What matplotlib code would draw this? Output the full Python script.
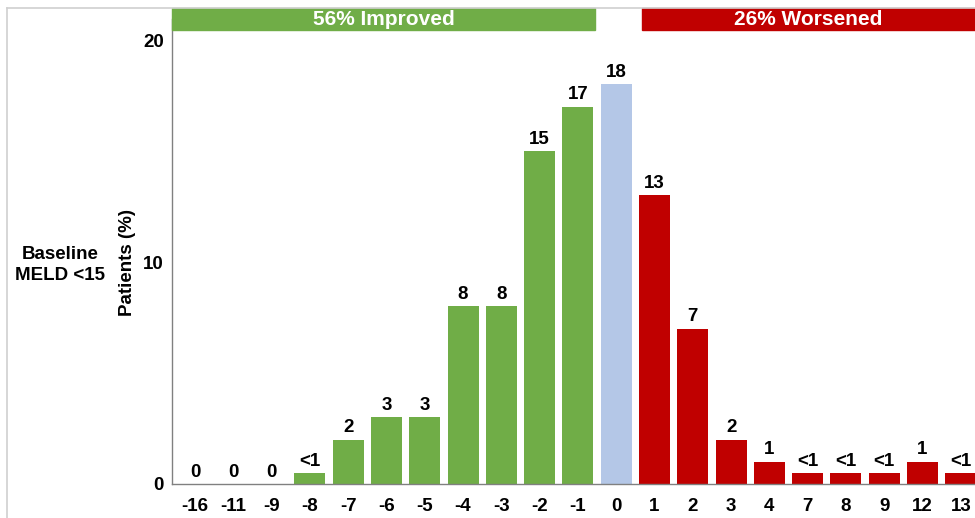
import matplotlib
matplotlib.use("Agg")
import matplotlib.pyplot as plt
from matplotlib.patches import Rectangle
from matplotlib.lines import Line2D

plt.rcParams['font.family'] = ['Liberation Sans', 'DejaVu Sans']

categories = ["-16", "-11", "-9", "-8", "-7", "-6", "-5", "-4", "-3", "-2", "-1",
              "0", "1", "2", "3", "4", "7", "8", "9", "12", "13"]
values = [0, 0, 0, 0.5, 2, 3, 3, 8, 8, 15, 17, 18, 13, 7, 2, 1, 0.5, 0.5, 0.5, 1, 0.5]
value_labels = ["0", "0", "0", "<1", "2", "3", "3", "8", "8", "15", "17", "18",
                "13", "7", "2", "1", "<1", "<1", "<1", "1", "<1"]
improved_label = "56% Improved"
worsened_label = "26% Worsened"
y_ticks = [0, 10, 20]

GREEN = "#70AD47"
RED = "#C00000"
BLUE = "#B4C7E7"

FS = 13.5

W, H = 975, 518
fig = plt.figure(figsize=(W / 100, H / 100), dpi=100)
ax = fig.add_axes([172 / W, (H - 484) / H, (975 - 172) / W, (484 - 19) / H])

x = list(range(len(categories)))
colors = []
for c in categories:
    v = int(c)
    colors.append(GREEN if v < 0 else (BLUE if v == 0 else RED))

ax.bar(x, values, width=0.81, color=colors, zorder=2)
for xi, v, lab in zip(x, values, value_labels):
    ax.text(xi, v + 0.15, lab, ha="center", va="bottom", fontsize=FS,
            fontweight="bold", color="black")

ax.set_xlim(-0.6, 20.37)
ax.set_ylim(0, 20.95)
ax.set_xticks(x)
ax.set_xticklabels(categories, fontsize=FS, fontweight="bold")
ax.set_yticks(y_ticks)
ax.set_yticklabels([str(t) for t in y_ticks], fontsize=FS, fontweight="bold")
ax.tick_params(axis="both", length=0)
ax.tick_params(axis="x", pad=10)
ax.tick_params(axis="y", pad=6)
for s in ["top", "right"]:
    ax.spines[s].set_visible(False)
for s in ["left", "bottom"]:
    ax.spines[s].set_color("#808080")
    ax.spines[s].set_linewidth(1.0)

# Banners above the plot
ylo, yhi = 20.45, 21.44
ax.add_patch(Rectangle((-0.6, ylo), 10.44 + 0.6, yhi - ylo, color=GREEN,
                       clip_on=False, zorder=3))
ax.add_patch(Rectangle((11.67, ylo), 20.37 - 11.67, yhi - ylo, color=RED,
                       clip_on=False, zorder=3))
ax.text((-0.6 + 10.44) / 2, (ylo + yhi) / 2, improved_label, ha="center", va="center",
        color="white", fontsize=15, fontweight="bold", zorder=4, clip_on=False)
ax.text((11.67 + 20.37) / 2, (ylo + yhi) / 2, worsened_label, ha="center", va="center",
        color="white", fontsize=15, fontweight="bold", zorder=4, clip_on=False)

fig.text(128 / W, 1 - 262 / H, "Patients (%)", rotation=90, ha="center", va="center",
         fontsize=FS, fontweight="bold")
fig.text(60 / W, 1 - 265 / H, "Baseline\nMELD <15", ha="center", va="center",
         fontsize=FS, fontweight="bold", linespacing=1.35)

# light frame
fig.add_artist(Line2D([7 / W, 7 / W], [0, 1 - 8 / H], color="#D0D0D0", lw=1.2,
                      transform=fig.transFigure))
fig.add_artist(Line2D([7 / W, 1], [1 - 8 / H, 1 - 8 / H], color="#D0D0D0", lw=1.2,
                      transform=fig.transFigure))

fig.savefig("out.png", dpi=100)
